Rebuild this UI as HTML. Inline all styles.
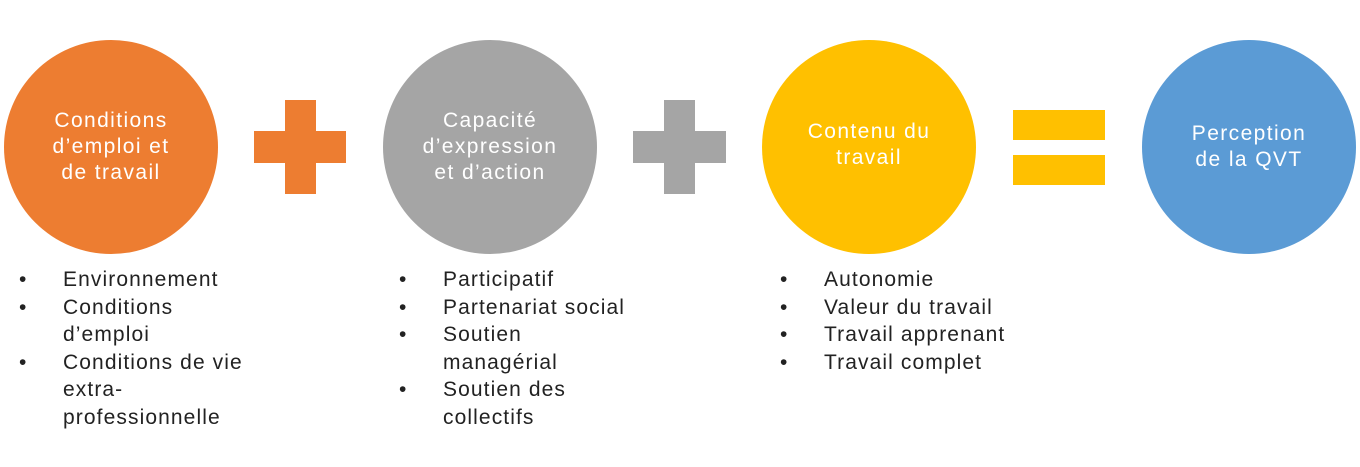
<!DOCTYPE html>
<html><head><meta charset="utf-8"><style>
body{margin:0;width:1360px;height:467px;background:#fff;position:relative;overflow:hidden;font-family:"Liberation Sans",sans-serif}
.c{position:absolute;width:214px;height:214px;border-radius:50%;top:40px;display:flex;align-items:center;justify-content:center;text-align:center;color:#fff;font-size:21px;line-height:26px;letter-spacing:1.4px}
.b{position:absolute}
ul{position:absolute;margin:0;padding:0;list-style:none;top:266px;font-size:21px;line-height:27.6px;color:#222;letter-spacing:1.1px}
li{position:relative;padding-left:0;white-space:nowrap}
li:before{content:"•";position:absolute;left:-44px}
</style></head><body>
<div class="c" style="left:4px;background:#ED7D31">Conditions<br>d’emploi et<br>de travail</div>
<div class="c" style="left:383px;background:#A5A5A5">Capacité<br>d’expression<br>et d’action</div>
<div class="c" style="left:762px;background:#FFC000;padding-bottom:4px;box-sizing:border-box">Contenu du<br>travail</div>
<div class="c" style="left:1142px;background:#5B9BD5">Perception<br>de la QVT</div>
<div class="b" style="left:254px;top:131px;width:92px;height:32px;background:#ED7D31"></div>
<div class="b" style="left:285px;top:100px;width:31px;height:94px;background:#ED7D31"></div>
<div class="b" style="left:633px;top:131px;width:93px;height:32px;background:#A5A5A5"></div>
<div class="b" style="left:664px;top:100px;width:31px;height:94px;background:#A5A5A5"></div>
<div class="b" style="left:1013px;top:110px;width:92px;height:30px;background:#FFC000"></div>
<div class="b" style="left:1013px;top:155px;width:92px;height:30px;background:#FFC000"></div>
<ul style="left:63px"><li>Environnement</li><li>Conditions<br>d’emploi</li><li>Conditions de vie<br>extra-<br>professionnelle</li></ul>
<ul style="left:443px"><li>Participatif</li><li>Partenariat social</li><li>Soutien<br>managérial</li><li>Soutien des<br>collectifs</li></ul>
<ul style="left:824px"><li>Autonomie</li><li>Valeur du travail</li><li>Travail apprenant</li><li>Travail complet</li></ul>
</body></html>
